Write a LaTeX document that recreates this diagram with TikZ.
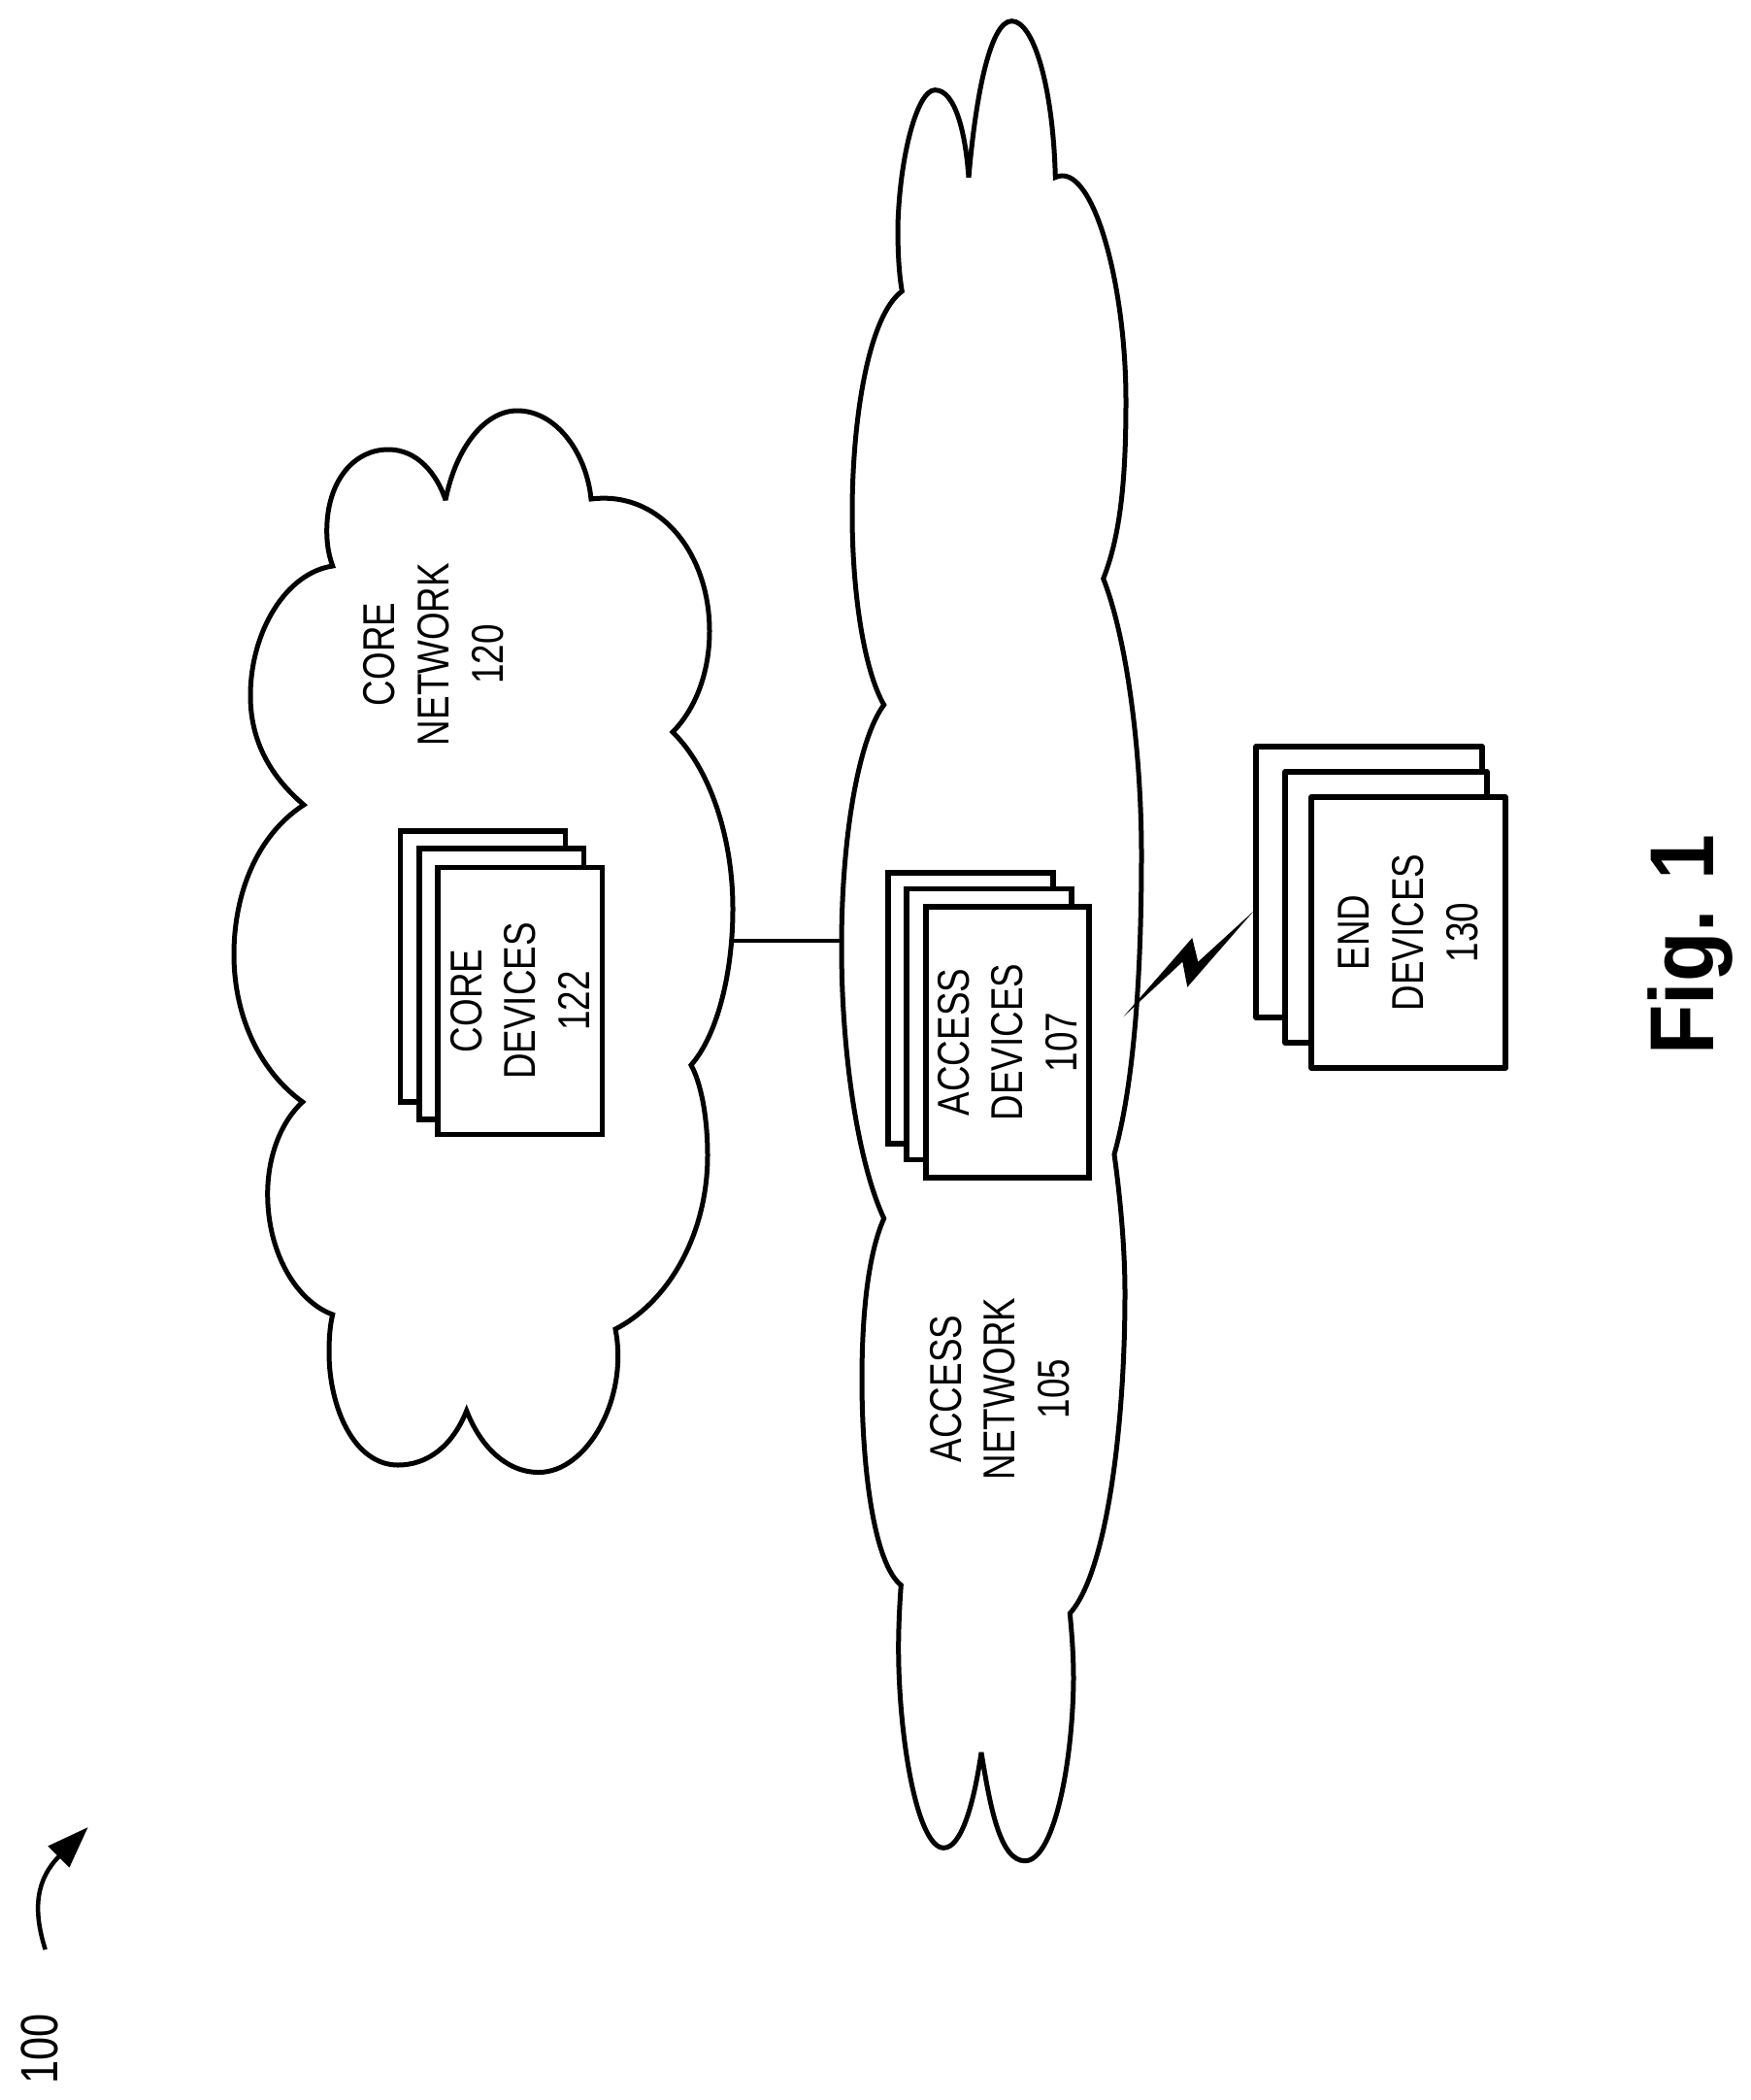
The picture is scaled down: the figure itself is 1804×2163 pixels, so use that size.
\documentclass[tikz,border=0pt]{standalone}
\usepackage{fontspec}
\usetikzlibrary{arrows.meta}
\newfontfamily\lblfont[FakeStretch=0.80]{Liberation Sans}
\newfontfamily\figfont[FakeStretch=0.9,BoldFont={Liberation Sans Bold}]{Liberation Sans}
\newfontfamily\reffont[FakeStretch=0.8]{Liberation Sans}
\tikzset{
  cloudline/.style={draw=black,line width=5pt,miter limit=3},
  devbox/.style={draw=black,fill=white,line width=5.2pt,rotate=90,minimum width=279pt,inner sep=0pt,outer sep=0pt,align=center,font=\lblfont\fontsize{46}{55.7}\selectfont},
  lbl/.style={rotate=90,inner sep=0pt,align=center,font=\lblfont\fontsize{46}{55.7}\selectfont},
  link/.style={draw=black,line width=4pt},
  bolt/.style={fill=black,draw=none},
}
\begin{document}
\begin{tikzpicture}[x=1pt,y=-1pt]
\useasboundingbox (0,0) rectangle (1804,2163);
\fill[white] (0,0) rectangle (1804,2163);
% core cloud
\path[cloudline] (459,515)
 .. controls (470,460) and (500,423) .. (533,423)
 .. controls (572,423) and (604,465) .. (609,514)
 .. controls (680,505) and (731,570) .. (731,650)
 .. controls (731,695) and (715,732) .. (693,754)
 .. controls (730,790) and (755,860) .. (755,936)
 .. controls (755,1000) and (740,1065) .. (712,1097)
 .. controls (722,1115) and (729,1150) .. (729,1190)
 .. controls (729,1270) and (690,1340) .. (634,1369)
 .. controls (648,1440) and (605,1516.5) .. (555,1516.5)
 .. controls (522,1516.5) and (495,1490) .. (480.7,1453)
 .. controls (466,1490) and (440,1509) .. (410,1509)
 .. controls (365,1509) and (339,1450) .. (339,1393)
 .. controls (339,1378) and (340,1365) .. (342.7,1354)
 .. controls (305,1340) and (275.7,1290) .. (275.7,1230)
 .. controls (275.7,1190) and (290,1155) .. (311.7,1135)
 .. controls (270,1105) and (241,1050) .. (241,983)
 .. controls (241,920) and (265,860) .. (313,829)
 .. controls (285,805) and (258,770) .. (258,716.7)
 .. controls (258,650) and (295,590) .. (342.7,583)
 .. controls (338,570) and (336.7,558) .. (336.7,546.7)
 .. controls (336.7,495) and (365,463) .. (400,463)
 .. controls (430,463) and (450,488) .. (459,515) -- cycle;
% access cloud
\path[cloudline] (998,183)
 .. controls (1005,100) and (1020,21.7) .. (1042.3,21.7)
 .. controls (1065,21.7) and (1085,90) .. (1087.3,182.7)
 .. controls (1125,165) and (1160,290) .. (1160,413)
 .. controls (1160,490) and (1155,550) .. (1136.7,596)
 .. controls (1160,655) and (1176,770) .. (1176,880)
 .. controls (1176,990) and (1170,1110) .. (1148,1189)
 .. controls (1155,1240) and (1159,1290) .. (1159,1332)
 .. controls (1159,1470) and (1140,1620) .. (1102.3,1661.7)
 .. controls (1105,1690) and (1106,1710) .. (1106,1730)
 .. controls (1105,1820) and (1085,1916.7) .. (1056,1916.7)
 .. controls (1030,1916.7) and (1020,1860) .. (1011,1805)
 .. controls (1003,1860) and (990,1903.3) .. (972.3,1903.3)
 .. controls (945,1903.3) and (925.7,1790) .. (925.7,1697)
 .. controls (925.7,1675) and (927,1650) .. (928.3,1632.7)
 .. controls (900,1610) and (888,1510) .. (888,1421)
 .. controls (888,1350) and (895,1290) .. (910.7,1255)
 .. controls (885,1200) and (867,1090) .. (867,975)
 .. controls (867,860) and (885,760) .. (910.7,726)
 .. controls (890,690) and (878,610) .. (878,529)
 .. controls (878,430) and (895,325) .. (929.3,300)
 .. controls (926,280) and (925,260) .. (925,233)
 .. controls (927,160) and (945,92.7) .. (963.3,92.7)
 .. controls (985,92.7) and (995,140) .. (998,183) -- cycle;
% named cloud attachment points
\coordinate (coreedge) at (755,969);
\coordinate (accessedge) at (867,969);
\coordinate (boltstart) at (1157.3,1047.3);
\coordinate (boltend) at (1291.7,938.3);
\draw[link] (coreedge) -- (accessedge);
% core devices
\node[devbox,minimum height=169.5pt] (coreback) at (497.5,995.5) {};
\node[devbox,minimum height=169.5pt] (coremid) at (516.75,1013.5) {};
\node[devbox,minimum height=169.5pt,minimum width=275pt] (corefront) at (535.75,1031) {CORE\\DEVICES\\122};
% access devices
\node[devbox,minimum height=170pt] (accback) at (1000,1038.5) {};
\node[devbox,minimum height=170pt] (accmid) at (1019,1055) {};
\node[devbox,minimum height=168pt] (accfront) at (1038,1073.5) {ACCESS\\DEVICES\\107};
% end devices
\node[devbox,line join=round,minimum height=233pt] (endback) at (1410.5,908.5) {};
\node[devbox,line join=round,minimum height=208pt] (endmid) at (1428,934.5) {};
\node[devbox,line join=round,minimum height=200pt] (endfront) at (1451,960.5) {END\\DEVICES\\130};
% labels
\node[lbl] (corenet) at (446.5,674) {CORE\\NETWORK\\120};
\node[lbl] (accnet) at (1030,1430.5) {ACCESS\\NETWORK\\105};
% lightning bolt
\fill[bolt] (boltstart) -- (1228.3,966) -- (1234.3,990.7) -- (boltend) -- (1223.3,1016.7) -- (1218.3,990.7) -- cycle;
% system arrow
\coordinate (sysstart) at (46.7,2008);
\coordinate (sysend) at (90.7,1882);
\draw[line width=4.5pt,-{Triangle[length=43pt,width=30pt]}] (sysstart) .. controls (33,1965) and (38,1935) .. (sysend);
\node[rotate=90,anchor=base,inner sep=0pt,font=\reffont\fontsize{54}{60}\selectfont] (sysref) at (59,2110) {100};
\node[rotate=90,anchor=base,inner sep=0pt,font=\figfont\bfseries\fontsize{93.5}{100}\selectfont] (figlabel) at (1765,973) {Fig. 1};
\end{tikzpicture}
\end{document}
